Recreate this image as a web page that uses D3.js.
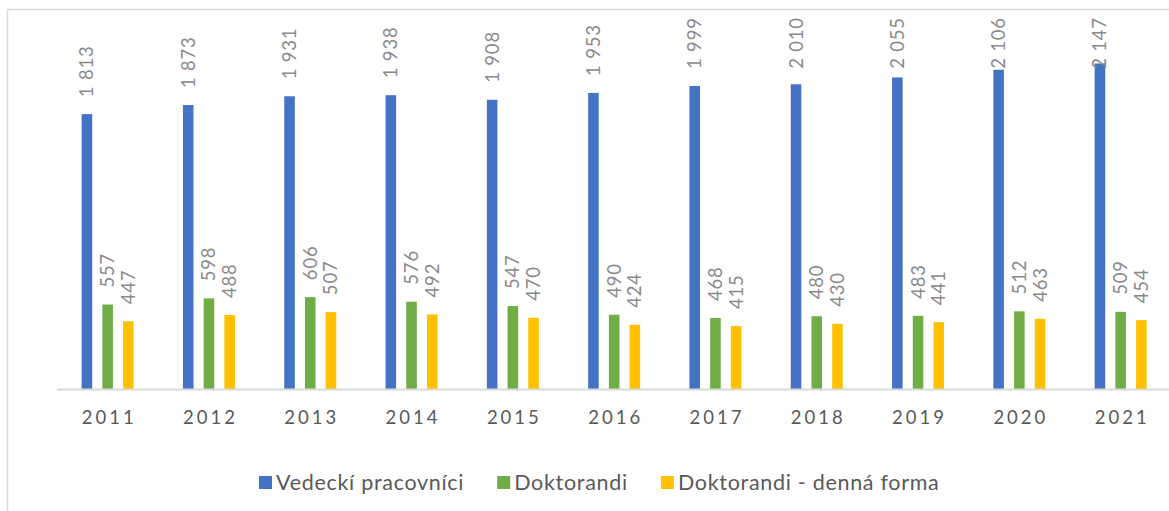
<!DOCTYPE html>
<html>
<head>
<meta charset="utf-8">
<script src="https://cdn.jsdelivr.net/npm/d3@7"></script>
<style>
  body { margin: 0; background: #fff; }
  svg { display: block; font-family: Lato, "Noto Sans", sans-serif; }
</style>
</head>
<body>
<div id="container"></div>
<script>
// dáta
const years = ['2011', '2012', '2013', '2014', '2015', '2016', '2017', '2018', '2019', '2020', '2021'];
const seriesNames = ['Vedeckí pracovníci', 'Doktorandi', 'Doktorandi - denná forma'];
const vedecki = [1813, 1873, 1931, 1938, 1908, 1953, 1999, 2010, 2055, 2106, 2147];
const doktorandi = [557, 598, 606, 576, 547, 490, 468, 480, 483, 512, 509];
const dennaForma = [447, 488, 507, 492, 470, 424, 415, 430, 441, 463, 454];
const colors = ['#4472C4', '#70AD47', '#FFC000'];

const width = 1169, height = 511;
const margin = {left: 57, baseline: 389, top: 10};

const values = [vedecki, doktorandi, dennaForma];
const data = years.map((y, i) => ({year: y, vals: values.map((s, k) => ({key: k, v: s[i]}))}));

const svg = d3.select('#container').append('svg')
    .attr('width', width)
    .attr('height', height);

// rámček grafu
svg.append('rect')
    .attr('x', 7.5).attr('y', 9.5)
    .attr('width', 1300).attr('height', 600)
    .style('fill', 'none')
    .style('stroke', '#d9d9d9')
    .style('stroke-width', '1.5px');

const x0 = d3.scaleBand()
    .domain(years)
    .range([margin.left, margin.left + 101.3 * years.length]);

const x1 = d3.scaleBand()
    .domain(d3.range(3))
    .range([0, x0.bandwidth()])
    .paddingInner(0.49)
    .paddingOuter(1.19);

const y = d3.scaleLinear()
    .domain([0, 2500])
    .range([margin.baseline, margin.top]);

const group = svg.selectAll('.group')
    .data(data)
    .enter().append('g')
    .attr('class', 'group')
    .attr('transform', d => 'translate(' + x0(d.year) + ',0)');

group.selectAll('rect')
    .data(d => d.vals)
    .enter().append('rect')
    .attr('x', d => x1(d.key))
    .attr('y', d => y(d.v))
    .attr('width', x1.bandwidth())
    .attr('height', d => y(0) - y(d.v))
    .style('fill', d => colors[d.key]);

// popisky hodnôt (otočené)
const fmt = v => d3.format(',')(v).replace(',', ' ');
group.selectAll('text.val')
    .data(d => d.vals)
    .enter().append('text')
    .attr('class', 'val')
    .attr('dy', '0.35em')
    .style('font-size', '18.5px')
    .style('letter-spacing', '0.8px')
    .style('fill', '#8a8a8a')
    .text(d => fmt(d.v))
    .attr('transform', function(d) {
        const len = this.getComputedTextLength() - 0.8;
        const start = Math.max(y(d.v) - 17, 18 + len);
        return 'translate(' + (x1(d.key) + x1.bandwidth() / 2) + ',' + start + ') rotate(-90)';
    });

// os X
svg.append('line')
    .attr('x1', margin.left).attr('x2', width)
    .attr('y1', margin.baseline + 0.5).attr('y2', margin.baseline + 0.5)
    .style('stroke', '#d9d9d9')
    .style('stroke-width', '2px');

svg.selectAll('.year')
    .data(years)
    .enter().append('text')
    .attr('class', 'year')
    .attr('x', d => x0(d) + x0.bandwidth() / 2 + 1.5)
    .attr('y', 424)
    .attr('text-anchor', 'middle')
    .style('font-size', '18.5px')
    .style('letter-spacing', '3px')
    .style('fill', '#595959')
    .text(d => d);

// legenda
const legend = svg.append('g').attr('transform', 'translate(259,476)');
let lx = 0;
seriesNames.forEach((name, k) => {
    legend.append('rect')
        .attr('x', lx).attr('y', 0)
        .attr('width', 13).attr('height', 13)
        .style('fill', colors[k]);
    const t = legend.append('text')
        .attr('x', lx + 17)
        .attr('y', 13.5)
        .style('font-size', '21.5px')
        .style('letter-spacing', '0.7px')
        .style('fill', '#595959')
        .text(name);
    lx += 17 + t.node().getComputedTextLength() + 33;
});
</script>
</body>
</html>
